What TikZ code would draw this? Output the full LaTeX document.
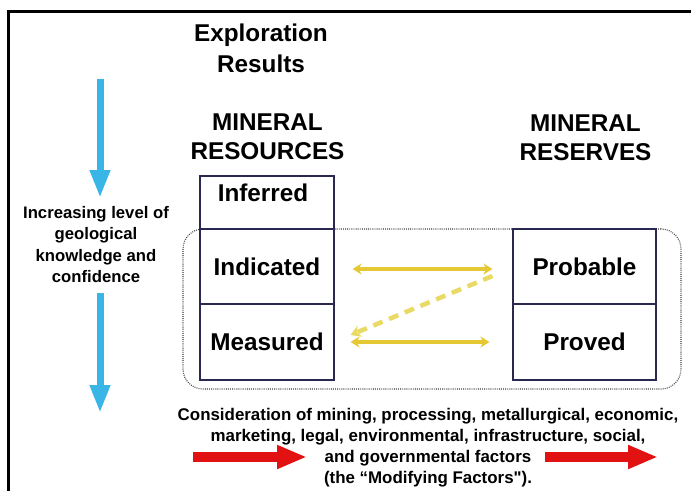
\documentclass[tikz,border=0pt]{standalone}
\usepackage{fontspec}
\setmainfont{Liberation Sans}[Ligatures=TeXOff]
\usetikzlibrary{arrows.meta}
\definecolor{bluearr}{RGB}{58,182,230}
\definecolor{redarr}{RGB}{226,18,18}
\definecolor{yel}{RGB}{230,200,52}
\definecolor{yeld}{RGB}{232,218,100}
\definecolor{boxline}{RGB}{40,40,80}
\definecolor{dotline}{RGB}{60,60,60}
\begin{document}
\begin{tikzpicture}[x=1pt,y=-1pt,
  title/.style={font=\fontsize{24.3}{30}\selectfont\bfseries, align=center, inner sep=0pt},
  catbox/.style={draw=boxline, line width=1.1pt, inner sep=0pt,
    font=\fontsize{24.3}{28}\selectfont\bfseries},
  boxlabel/.style={font=\fontsize{24.3}{28}\selectfont\bfseries, inner sep=0pt},
  sidetext/.style={font=\fontsize{16.7}{21.3}\selectfont\bfseries, align=center, inner sep=0pt},
  bottomtext/.style={font=\fontsize{16.9}{21}\selectfont\bfseries, align=center, inner sep=0pt},
  bluearrow/.style={draw=bluearr, line width=7pt, -{Triangle[width=19pt,length=28pt]}},
  redarrow/.style={draw=redarr, line width=10pt, -{Triangle[width=22pt,length=30pt]}},
  yelarrow/.style={draw=yel, line width=3.5pt, {Stealth[width=11pt,length=9pt]}-{Stealth[width=11pt,length=9pt]}},
  yeldash/.style={draw=yeld, line width=4.5pt, dash pattern=on 10pt off 7pt, -{Stealth[width=12pt,length=10pt]}},
  groupframe/.style={draw=dotline, line width=1.1pt, dash pattern=on 0.9pt off 1.2pt, rounded corners=20pt}
]
\useasboundingbox (0,0) rectangle (691,491);
% frame lines
\draw[line width=3pt, line cap=butt] (8,491) -- (8,11) -- (691,11);

% titles
\node[title] (expl) at (261,48) {Exploration\\[1pt]Results};
\node[title] (restitle) at (267.5,137) {MINERAL\\[-1pt]RESOURCES};
\node[title] (rsvtitle) at (585.5,138) {MINERAL\\[-1pt]RESERVES};

% group frame
\node[groupframe, minimum width=498pt, minimum height=160pt, inner sep=0pt] (grp) at (432,309) {};

% resource boxes
\node[catbox, minimum width=134pt, minimum height=53pt] (inf) at (267,202.5) {};
\node[boxlabel] (infl) at (263,193) {Inferred};
\node[catbox, minimum width=134pt, minimum height=75pt] (ind) at (267,266.5) {Indicated};
\node[catbox, minimum width=134pt, minimum height=76pt] (meas) at (267,342) {Measured};

% reserve boxes
\node[catbox, minimum width=143pt, minimum height=75pt] (prob) at (584.5,266.5) {Probable};
\node[catbox, minimum width=143pt, minimum height=76pt] (prov) at (584.5,342) {Proved};

% yellow arrows
\draw[yelarrow] ([xshift=18pt,yshift=-2.5pt]ind.east) -- ([xshift=-20pt,yshift=-2.5pt]prob.west);
\draw[yelarrow] ([xshift=16pt,yshift=0pt]meas.east) -- ([xshift=-23pt,yshift=0pt]prov.west);
\draw[yeldash] ([xshift=-20pt,yshift=-9.5pt]prob.west) -- ([xshift=16pt,yshift=7pt]meas.east);

% left side
\node[sidetext] (conf) at (96,244.5) {Increasing level of\\geological\\knowledge and\\confidence};
\coordinate (b1s) at (100,79);
\coordinate (b1e) at (100,198);
\coordinate (b2s) at (100,293);
\coordinate (b2e) at (100,413);
\draw[bluearrow] (b1s) -- (b1e);
\draw[bluearrow] (b2s) -- (b2e);

% bottom text
\node[bottomtext] (mod) at (428,448) {Consideration of mining, processing, metallurgical, economic,\\marketing, legal, environmental, infrastructure, social,\\and governmental factors\\(the \textquotedblleft Modifying Factors").};
\coordinate (r1s) at (193,457);
\coordinate (r1e) at (307,457);
\coordinate (r2s) at (545,457);
\coordinate (r2e) at (658,457);
\draw[redarrow] (r1s) -- (r1e);
\draw[redarrow] (r2s) -- (r2e);
\end{tikzpicture}
\end{document}
